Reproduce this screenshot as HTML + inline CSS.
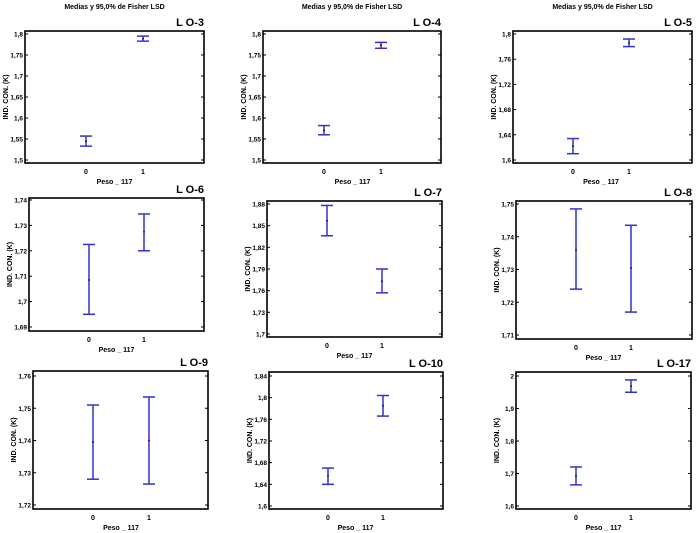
<!DOCTYPE html>
<html><head><meta charset="utf-8"><style>
body{margin:0;background:#fff;width:700px;height:533px;overflow:hidden}
svg{display:block}
text{font-family:"Liberation Sans",sans-serif;fill:#000}
</style></head><body>
<svg id="c" width="700" height="533"></svg>
<script>
const panelNames = ["L O-3","L O-4","L O-5","L O-6","L O-7","L O-8","L O-9","L O-10","L O-17"];
const categories = ["0","1"];
const tickLabels = [
 ["1,5","1,55","1,6","1,65","1,7","1,75","1,8"],
 ["1,5","1,55","1,6","1,65","1,7","1,75","1,8"],
 ["1,6","1,64","1,68","1,72","1,76","1,8"],
 ["1,69","1,7","1,71","1,72","1,73","1,74"],
 ["1,7","1,73","1,76","1,79","1,82","1,85","1,88"],
 ["1,71","1,72","1,73","1,74","1,75"],
 ["1,72","1,73","1,74","1,75","1,76"],
 ["1,6","1,64","1,68","1,72","1,76","1,8","1,84"],
 ["1,6","1,7","1,8","1,9","2"]
];
const means = [[1.545,1.789],[1.571,1.773],[1.622,1.786],[1.7085,1.7275],[1.857,1.773],[1.736,1.7305],[1.7395,1.740],[1.655,1.785],[1.692,1.969]];
const lowers = [[1.533,1.783],[1.560,1.766],[1.610,1.780],[1.695,1.720],[1.836,1.757],[1.724,1.717],[1.728,1.7265],[1.640,1.766],[1.665,1.950]];
const uppers = [[1.557,1.795],[1.582,1.780],[1.634,1.792],[1.7225,1.7345],[1.878,1.790],[1.7485,1.7435],[1.751,1.7535],[1.670,1.804],[1.720,1.988]];
// layout: box l,r,t,b ; tick first/last y ; category x
const L=[
 {l:25,r:204,t:31,b:163,y0:160,y1:34,x0:86,x1:143,head:true},
 {l:263,r:441,t:31,b:163,y0:160,y1:34,x0:324,x1:381,head:true},
 {l:513,r:692,t:31,b:163,y0:160,y1:34,x0:573,x1:629,head:true},
 {l:29,r:204,t:198,b:331,y0:327,y1:200,x0:89,x1:144},
 {l:267,r:442,t:201,b:337,y0:334,y1:204,x0:327,x1:382},
 {l:516,r:692,t:201,b:339,y0:335,y1:204,x0:576,x1:631},
 {l:33,r:208,t:371,b:509,y0:505,y1:376,x0:93,x1:149},
 {l:269,r:443,t:372,b:509,y0:506,y1:376,x0:328,x1:383},
 {l:516,r:691,t:372,b:509,y0:506,y1:376,x0:576,x1:631}
];
const NS="http://www.w3.org/2000/svg", svg=document.getElementById('c');
function mk(t,a,p){const e=document.createElementNS(NS,t);for(const k in a)e.setAttribute(k,a[k]);(p||svg).appendChild(e);return e;}
const num=s=>parseFloat(s.replace(',','.'));
panelNames.forEach((name,i)=>{
 const g=L[i];
 const grp=mk('g',{});
 
 
 const ticks=tickLabels[i].map(num);
 const vmin=ticks[0], vmax=ticks[ticks.length-1];
 const y=v=>g.y0+(v-vmin)/(vmax-vmin)*(g.y1-g.y0);
 const x=k=>k===0?g.x0:g.x1;
 if(g.head){const h=mk('text',{x:(g.l+g.r)/2,y:9,'font-size':7,'font-weight':'bold','text-anchor':'middle'},grp);h.textContent='Medias y 95,0% de Fisher LSD';
  }
 const tt=mk('text',{x:g.r,y:g.t-5,'font-size':11,'font-weight':'bold','text-anchor':'end'},grp);tt.textContent=name;
 
 const box=mk('rect',{x:g.l,y:g.t,width:g.r-g.l,height:g.b-g.t,fill:'none',stroke:'#000','stroke-width':1.6},grp);
 
 ticks.forEach((v,j)=>{
  const yy=y(v);
  mk('line',{x1:g.l,x2:g.l+3,y1:yy,y2:yy,stroke:'#000','stroke-width':1},grp);
  mk('line',{x1:g.r-3,x2:g.r,y1:yy,y2:yy,stroke:'#000','stroke-width':1},grp);
  const tl=mk('text',{x:g.l-2,y:yy+2.5,'font-size':6.5,'font-weight':'bold','text-anchor':'end'},grp);tl.textContent=tickLabels[i][j];
  
 });
 categories.forEach((c,k)=>{
  const cl=mk('text',{x:x(k),y:g.b+11,'font-size':7,'font-weight':'bold','text-anchor':'middle'},grp);cl.textContent=c;
  
  const xx=x(k), yl=y(lowers[i][k]), yu=y(uppers[i][k]), ym=y(means[i][k]);
  const eb=mk('g',{stroke:'#3333cc','stroke-width':1.5},grp);
  
  mk('line',{x1:xx,x2:xx,y1:yu,y2:yl},eb);
  mk('line',{x1:xx-6,x2:xx+6,y1:yu,y2:yu},eb);
  mk('line',{x1:xx-6,x2:xx+6,y1:yl,y2:yl},eb);
  const d=mk('circle',{cx:xx,cy:ym,r:1,fill:'#222'},grp);
  
 });
 const xl=mk('text',{x:(g.x0+g.x1)/2,y:g.b+21,'font-size':7,'font-weight':'bold','text-anchor':'middle'},grp);xl.textContent='Peso _ 117';
 
 const cy=(g.t+g.b)/2, cx=g.l-17;
 const yl=mk('text',{x:cx,y:cy,'font-size':7,'font-weight':'bold','text-anchor':'middle',transform:`rotate(-90 ${cx} ${cy})`},grp);yl.textContent='IND. CON. (K)';
 
});
</script>
</body></html>
